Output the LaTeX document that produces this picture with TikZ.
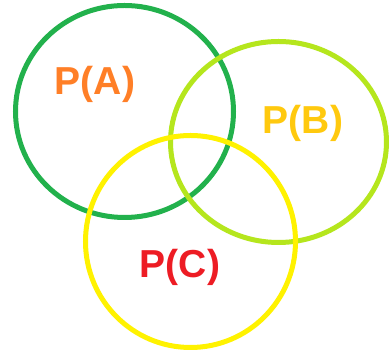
\documentclass[tikz,border=0pt]{standalone}
\usepackage{fontspec}
\setmainfont{Liberation Sans}
\definecolor{colA}{RGB}{34,177,76}
\definecolor{colB}{RGB}{181,230,29}
\definecolor{colC}{RGB}{255,242,0}
\definecolor{txtA}{RGB}{255,127,39}
\definecolor{txtB}{RGB}{255,201,14}
\definecolor{txtC}{RGB}{237,28,36}
\begin{document}
\begin{tikzpicture}[x=1pt,y=1pt,
  ring/.style={line width=5pt,fill=none},
  lbl/.style={anchor=base,font=\fontsize{39}{39}\selectfont\bfseries,inner sep=0pt}]
\fill[white] (0,0) rectangle (389,352);
\useasboundingbox (0,0) rectangle (389,352);
\begin{scope}
\clip (0,0) rectangle (389,352);
\draw[ring,draw=colA] (124.5,240.5) ellipse [x radius=109pt, y radius=106pt];
\draw[ring,draw=colB] (278.5,210) ellipse [x radius=108pt, y radius=100.5pt];
\draw[ring,draw=colC] (190.5,110.5) ellipse [x radius=105pt, y radius=106pt];
\end{scope}
\node[lbl,text=txtA] (a) at (95,257) {P(A)};
\node[lbl,text=txtB] (b) at (303,218) {P(B)};
\node[lbl,text=txtC] (c) at (180,74) {P(C)};
\end{tikzpicture}
\end{document}
